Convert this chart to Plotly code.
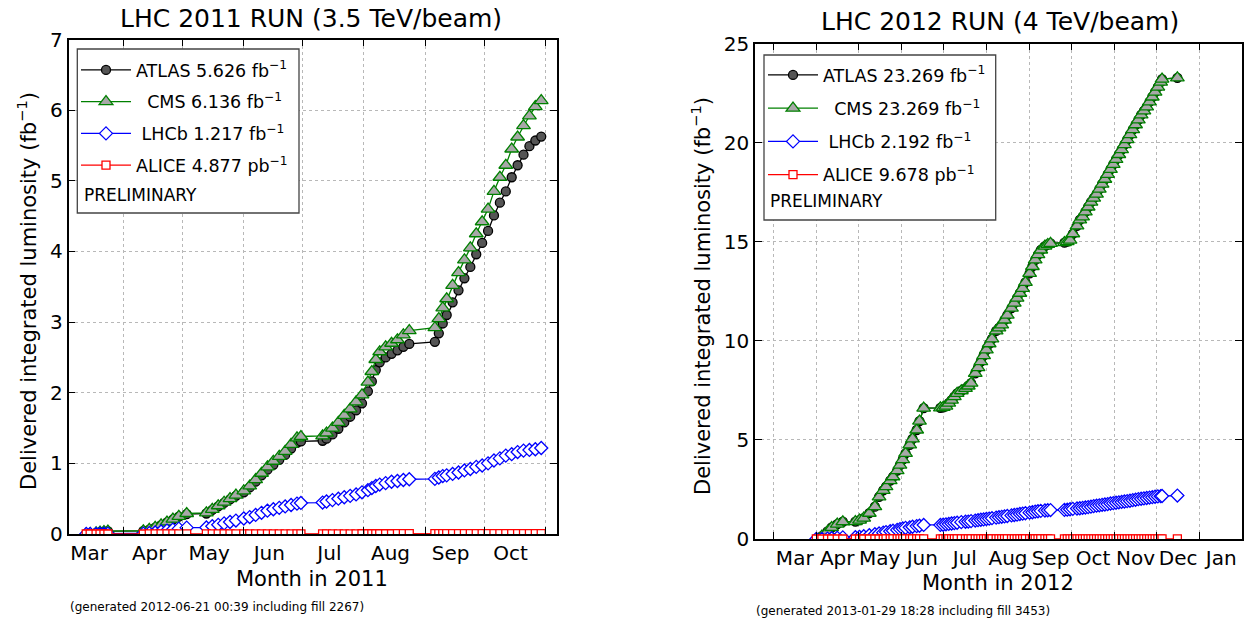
import plotly.graph_objects as go

W, H = 1244, 619
FONT = "DejaVu Sans"

# ---------------- 2011 data (fb^-1, cumulative delivered) ----------------
dates_2011 = [
    "2011-03-13", "2011-03-15", "2011-03-18", "2011-03-20", "2011-03-22", "2011-03-24",
    "2011-04-11", "2011-04-14", "2011-04-17", "2011-04-20", "2011-04-23", "2011-04-26", "2011-04-29", "2011-05-03",
    "2011-05-13", "2011-05-16", "2011-05-19", "2011-05-22", "2011-05-25", "2011-05-28",
    "2011-06-01", "2011-06-04", "2011-06-07", "2011-06-10", "2011-06-13", "2011-06-16", "2011-06-19",
    "2011-06-22", "2011-06-25", "2011-06-28", "2011-06-30",
    "2011-07-11", "2011-07-13", "2011-07-16", "2011-07-19", "2011-07-22", "2011-07-25", "2011-07-28", "2011-07-31",
    "2011-08-03", "2011-08-05", "2011-08-07", "2011-08-09", "2011-08-12", "2011-08-15", "2011-08-18", "2011-08-21", "2011-08-24",
    "2011-09-06", "2011-09-08", "2011-09-10", "2011-09-12", "2011-09-15", "2011-09-18", "2011-09-21", "2011-09-24",
    "2011-09-27", "2011-09-30",
    "2011-10-03", "2011-10-06", "2011-10-09", "2011-10-12", "2011-10-15", "2011-10-18", "2011-10-21", "2011-10-24",
    "2011-10-27", "2011-10-30",
]
cms_2011 = [
    0.000, 0.006, 0.016, 0.026, 0.036, 0.042,
    0.046, 0.065, 0.095, 0.13, 0.17, 0.21, 0.25, 0.29,
    0.30, 0.35, 0.40, 0.45, 0.50, 0.55,
    0.61, 0.68, 0.77, 0.86, 0.95, 1.03, 1.10, 1.17, 1.27, 1.36, 1.38,
    1.39, 1.43, 1.50, 1.58, 1.68, 1.77, 1.87, 1.97,
    2.15, 2.30, 2.47, 2.58, 2.65, 2.70, 2.75, 2.82, 2.88,
    2.92, 3.05, 3.20, 3.33, 3.52, 3.70, 3.88, 4.05, 4.25, 4.42,
    4.60, 4.85, 5.05, 5.22, 5.45, 5.62, 5.78, 5.92, 6.05, 6.136,
]
atlas_2011 = [
    0.000, 0.005, 0.015, 0.025, 0.034, 0.040,
    0.044, 0.062, 0.09, 0.125, 0.165, 0.205, 0.245, 0.28,
    0.29, 0.34, 0.39, 0.44, 0.49, 0.54,
    0.59, 0.66, 0.74, 0.83, 0.91, 0.98, 1.05, 1.12, 1.21, 1.29, 1.31,
    1.32, 1.35, 1.41, 1.49, 1.58, 1.66, 1.75, 1.85,
    2.02, 2.16, 2.32, 2.43, 2.50, 2.55, 2.60, 2.65, 2.69,
    2.72, 2.84, 2.98, 3.10, 3.28, 3.45, 3.62, 3.78, 3.96, 4.12,
    4.29, 4.51, 4.69, 4.85, 5.05, 5.22, 5.37, 5.49, 5.57, 5.626,
]
lhcb_2011 = [
    0.000, 0.001, 0.002, 0.003, 0.004, 0.005,
    0.006, 0.012, 0.022, 0.035, 0.048, 0.062, 0.076, 0.09,
    0.092, 0.11, 0.13, 0.15, 0.17, 0.19,
    0.22, 0.24, 0.27, 0.30, 0.33, 0.35, 0.37, 0.39, 0.41, 0.43, 0.44,
    0.445, 0.46, 0.48, 0.50, 0.52, 0.54, 0.56, 0.59,
    0.62, 0.65, 0.68, 0.70, 0.72, 0.74, 0.75, 0.765, 0.775,
    0.78, 0.80, 0.82, 0.83, 0.85, 0.87, 0.90, 0.92, 0.95, 0.97,
    1.00, 1.04, 1.07, 1.11, 1.13, 1.16, 1.18, 1.19, 1.20, 1.217,
]
alice_2011 = [
    0.0, 0.00005, 0.0001, 0.00016, 0.0002, 0.00025,
    0.0003, 0.0004, 0.0005, 0.0006, 0.0007, 0.0008, 0.0009, 0.0010,
    0.0010, 0.0011, 0.0012, 0.0013, 0.0014, 0.0015,
    0.0016, 0.0017, 0.0018, 0.0019, 0.0020, 0.0021, 0.0022, 0.0023, 0.0024, 0.0025, 0.0025,
    0.0025, 0.0026, 0.0027, 0.0028, 0.0029, 0.0030, 0.0031, 0.0032,
    0.0033, 0.0034, 0.0035, 0.0036, 0.0037, 0.0038, 0.0039, 0.0040, 0.0040,
    0.0040, 0.0041, 0.0042, 0.0043, 0.0044, 0.0045, 0.0046, 0.0046, 0.0047, 0.0047,
    0.0047, 0.0048, 0.0048, 0.0048, 0.0048, 0.0048, 0.0049, 0.0049, 0.0049, 0.004877,
]

# ---------------- 2012 data (fb^-1, cumulative delivered) ----------------
dates_2012 = [
    "2012-04-01", "2012-04-05", "2012-04-09", "2012-04-12", "2012-04-16", "2012-04-20",
    "2012-04-29", "2012-05-02", "2012-05-05", "2012-05-09", "2012-05-13", "2012-05-16", "2012-05-19",
    "2012-05-21", "2012-05-24", "2012-05-26", "2012-05-29", "2012-05-31",
    "2012-06-02", "2012-06-04", "2012-06-07", "2012-06-09", "2012-06-12", "2012-06-14", "2012-06-17",
    "2012-06-29", "2012-07-01", "2012-07-03", "2012-07-05", "2012-07-07", "2012-07-09", "2012-07-11",
    "2012-07-14", "2012-07-17", "2012-07-19", "2012-07-21", "2012-07-24", "2012-07-26", "2012-07-28", "2012-07-30",
    "2012-08-01", "2012-08-03", "2012-08-05", "2012-08-08", "2012-08-10", "2012-08-12", "2012-08-14",
    "2012-08-16", "2012-08-19", "2012-08-21", "2012-08-23", "2012-08-25", "2012-08-27", "2012-08-29",
    "2012-09-01", "2012-09-03", "2012-09-05", "2012-09-07", "2012-09-09", "2012-09-12", "2012-09-14", "2012-09-16",
    "2012-09-26", "2012-09-28", "2012-09-30", "2012-10-02", "2012-10-05", "2012-10-07", "2012-10-09",
    "2012-10-11", "2012-10-13", "2012-10-15", "2012-10-17", "2012-10-19", "2012-10-21", "2012-10-23",
    "2012-10-25", "2012-10-27", "2012-10-29", "2012-10-31",
    "2012-11-02", "2012-11-04", "2012-11-06", "2012-11-08", "2012-11-10", "2012-11-12", "2012-11-14",
    "2012-11-16", "2012-11-18", "2012-11-20", "2012-11-22", "2012-11-24", "2012-11-26", "2012-11-28", "2012-11-30",
    "2012-12-02", "2012-12-04", "2012-12-05", "2012-12-16",
]
cms_2012 = [
    0.0, 0.15, 0.38, 0.58, 0.75, 0.87,
    0.88, 0.95, 1.05, 1.30, 1.63, 2.13, 2.45, 2.64, 2.95, 3.14, 3.45, 3.73,
    4.0, 4.32, 4.75, 5.05, 5.5, 5.95, 6.6,
    6.62, 6.64, 6.70, 6.86, 7.01, 7.18, 7.35, 7.48, 7.60, 7.72, 7.86, 8.36, 8.65, 8.95, 9.25,
    9.54, 9.85, 10.1, 10.5, 10.65, 10.8, 11.05, 11.3, 11.65, 11.9, 12.15, 12.4, 12.65, 12.95,
    13.4, 13.75, 14.08, 14.35, 14.58, 14.78, 14.86, 14.92,
    14.95, 15.0, 15.08, 15.4, 15.8, 16.1, 16.25, 16.5, 16.75, 17.0, 17.2, 17.4, 17.65, 17.9, 18.15, 18.4, 18.65, 18.9,
    19.15, 19.4, 19.65, 19.9, 20.15, 20.4, 20.65, 20.9, 21.15, 21.4, 21.6, 21.8, 22.05, 22.3, 22.55,
    22.8, 23.05, 23.2, 23.269,
]
atlas_2012 = list(cms_2012)
lhcb_2012 = [
    0.0, 0.005, 0.02, 0.04, 0.06, 0.08,
    0.09, 0.11, 0.14, 0.19, 0.24, 0.28, 0.32, 0.35, 0.39, 0.42, 0.46, 0.50,
    0.53, 0.56, 0.59, 0.62, 0.65, 0.67, 0.71,
    0.71, 0.72, 0.74, 0.76, 0.78, 0.80, 0.82, 0.85, 0.87, 0.88, 0.90, 0.93, 0.95, 0.97, 0.99,
    1.01, 1.03, 1.05, 1.08, 1.10, 1.12, 1.14, 1.16, 1.19, 1.21, 1.23, 1.26, 1.28, 1.30,
    1.33, 1.35, 1.38, 1.40, 1.42, 1.44, 1.45, 1.46,
    1.47, 1.48, 1.50, 1.52, 1.54, 1.55, 1.57, 1.59, 1.61, 1.63, 1.66, 1.68, 1.70, 1.72, 1.74, 1.76, 1.79, 1.81,
    1.83, 1.85, 1.87, 1.89, 1.91, 1.93, 1.96, 1.98, 2.01, 2.03, 2.05, 2.07, 2.09, 2.11, 2.13,
    2.15, 2.16, 2.17, 2.192,
]
alice_2012 = [
    0.0, 0.0001, 0.0002, 0.0003, 0.0004, 0.0005,
    0.0006, 0.0007, 0.0008, 0.0009, 0.0010, 0.0011, 0.0012, 0.0013, 0.0014, 0.0015, 0.0016, 0.0017,
    0.0018, 0.0019, 0.0020, 0.0021, 0.0022, 0.0023, 0.0024,
    0.0025, 0.0026, 0.0027, 0.0028, 0.0029, 0.0030, 0.0031, 0.0032, 0.0033, 0.0034, 0.0035, 0.0036, 0.0037, 0.0038, 0.0039,
    0.0040, 0.0041, 0.0042, 0.0043, 0.0044, 0.0045, 0.0046, 0.0047, 0.0048, 0.0049, 0.0050, 0.0051, 0.0052, 0.0053,
    0.0054, 0.0055, 0.0056, 0.0057, 0.0058, 0.0059, 0.0060, 0.0061,
    0.0062, 0.0063, 0.0064, 0.0065, 0.0066, 0.0067, 0.0068, 0.0069, 0.0070, 0.0071, 0.0072, 0.0073, 0.0074,
    0.0075, 0.0076, 0.0077, 0.0078, 0.0079,
    0.0080, 0.0081, 0.0082, 0.0083, 0.0084, 0.0085, 0.0086, 0.0087, 0.0088, 0.0089, 0.0090, 0.0091, 0.0092,
    0.0093, 0.0094,
    0.0095, 0.0096, 0.0096, 0.009678,
]

labels_2011 = ["ATLAS 5.626 fb<sup>−1</sup>", "\u00a0\u00a0CMS 6.136 fb<sup>−1</sup>",
               "\u00a0LHCb 1.217 fb<sup>−1</sup>", "ALICE 4.877 pb<sup>−1</sup>"]
labels_2012 = ["ATLAS 23.269 fb<sup>−1</sup>", "\u00a0\u00a0CMS 23.269 fb<sup>−1</sup>",
               "\u00a0LHCb 2.192 fb<sup>−1</sup>", "ALICE 9.678 pb<sup>−1</sup>"]

styles = [
    dict(color="#000000", symbol="circle", fill="#555555", size=9),
    dict(color="#008000", symbol="triangle-up", fill="#a8a8a8", size=12),
    dict(color="#0000ff", symbol="diamond", fill="#ffffff", size=10),
    dict(color="#ff0000", symbol="square", fill="#ffffff", size=8),
]


def px(x):
    return x / W


def py(y):
    return 1 - y / H


fig = go.Figure()

for i, (lab, vals) in enumerate(zip(labels_2011, [atlas_2011, cms_2011, lhcb_2011, alice_2011])):
    s = styles[i]
    fig.add_trace(go.Scatter(
        x=dates_2011, y=vals, name=lab, mode="lines+markers",
        line=dict(color=s["color"], width=1.3),
        marker=dict(symbol=s["symbol"], size=s["size"], color=s["fill"],
                    line=dict(color=s["color"], width=1.3)),
        xaxis="x", yaxis="y", legend="legend", legendgroup="a%d" % i,
    ))

for i, (lab, vals) in enumerate(zip(labels_2012, [atlas_2012, cms_2012, lhcb_2012, alice_2012])):
    s = styles[i]
    fig.add_trace(go.Scatter(
        x=dates_2012, y=vals, name=lab, mode="lines+markers",
        line=dict(color=s["color"], width=1.3),
        marker=dict(symbol=s["symbol"], size=s["size"], color=s["fill"],
                    line=dict(color=s["color"], width=1.3)),
        xaxis="x2", yaxis="y2", legend="legend2", legendgroup="b%d" % i,
    ))

tickfont = dict(family=FONT, size=20, color="#000000")
common_axis = dict(
    showline=True, linecolor="#000000", linewidth=1.5, mirror="allticks",
    ticks="inside", ticklen=7, tickcolor="#000000", tickwidth=1,
    showgrid=True, gridcolor="#b8b8b8", griddash="dot", gridwidth=1,
    zeroline=False, tickfont=tickfont, automargin=False,
)

legend_common = dict(xanchor="left", yanchor="top", bgcolor="rgba(0,0,0,0)",
                     font=dict(family=FONT, size=17.5, color="#000000"),
                     itemwidth=50, traceorder="grouped")

fig.update_layout(
    width=W, height=H,
    margin=dict(l=0, r=0, t=0, b=0, autoexpand=False),
    paper_bgcolor="#ffffff", plot_bgcolor="#ffffff",
    font=dict(family=FONT, color="#000000"),
    xaxis=dict(common_axis, type="date", domain=[px(68.5), px(557)],
               range=["2011-03-04", "2011-11-07"], dtick="M1", tick0="2011-03-01",
               tickformat="%b", ticklabelmode="period", ticklabelshift=-4, anchor="y"),
    yaxis=dict(common_axis, domain=[py(534), py(39.5)], range=[0, 7], dtick=1, anchor="x"),
    xaxis2=dict(common_axis, type="date", domain=[px(755), px(1241.5)],
                range=["2012-02-17", "2013-01-31"], dtick="M1", tick0="2012-01-01",
                tickformat="%b", ticklabelmode="period", anchor="y2"),
    yaxis2=dict(common_axis, domain=[py(539), py(43.5)], range=[0, 25], dtick=5, anchor="x2"),
    legend=dict(legend_common, x=px(76), y=py(52), tracegroupgap=6),
    legend2=dict(legend_common, x=px(763), y=py(57), tracegroupgap=7.5),
    showlegend=True,
)

# legend frames (matplotlib-style boxes)
fig.add_shape(type="rect", xref="paper", yref="paper",
              x0=px(77.3), x1=px(299), y0=py(213), y1=py(49),
              line=dict(color="#444444", width=1.3), fillcolor="#ffffff", layer="above")
fig.add_shape(type="rect", xref="paper", yref="paper",
              x0=px(764), x1=px(995.7), y0=py(220), y1=py(55),
              line=dict(color="#444444", width=1.3), fillcolor="#ffffff", layer="above")


def ann(text, x, y, size, xanchor="center", angle=0):
    fig.add_annotation(text=text, x=px(x), y=py(y), xref="paper", yref="paper",
                       xanchor=xanchor, yanchor="middle", showarrow=False, textangle=angle,
                       font=dict(family=FONT, size=size, color="#000000"))


ann("PRELIMINARY", 82, 195, 17, xanchor="left")
ann("PRELIMINARY", 768, 201, 17, xanchor="left")

ann("LHC 2011 RUN (3.5 TeV/beam)", 311, 18, 25)
ann("LHC 2012 RUN (4 TeV/beam)", 1000, 22, 25)

ann("Delivered integrated luminosity (fb<sup>−1</sup>)", 27, 291, 21, angle=-90)
ann("Delivered integrated luminosity (fb<sup>−1</sup>)", 701, 296, 21, angle=-90)

ann("Month in 2011", 312, 579, 21)
ann("Month in 2012", 998, 583, 21)

ann("(generated 2012-06-21 00:39 including fill 2267)", 68, 607, 12, xanchor="left")
ann("(generated 2013-01-29 18:28 including fill 3453)", 754, 611, 12, xanchor="left")

fig.write_html("out.html")
